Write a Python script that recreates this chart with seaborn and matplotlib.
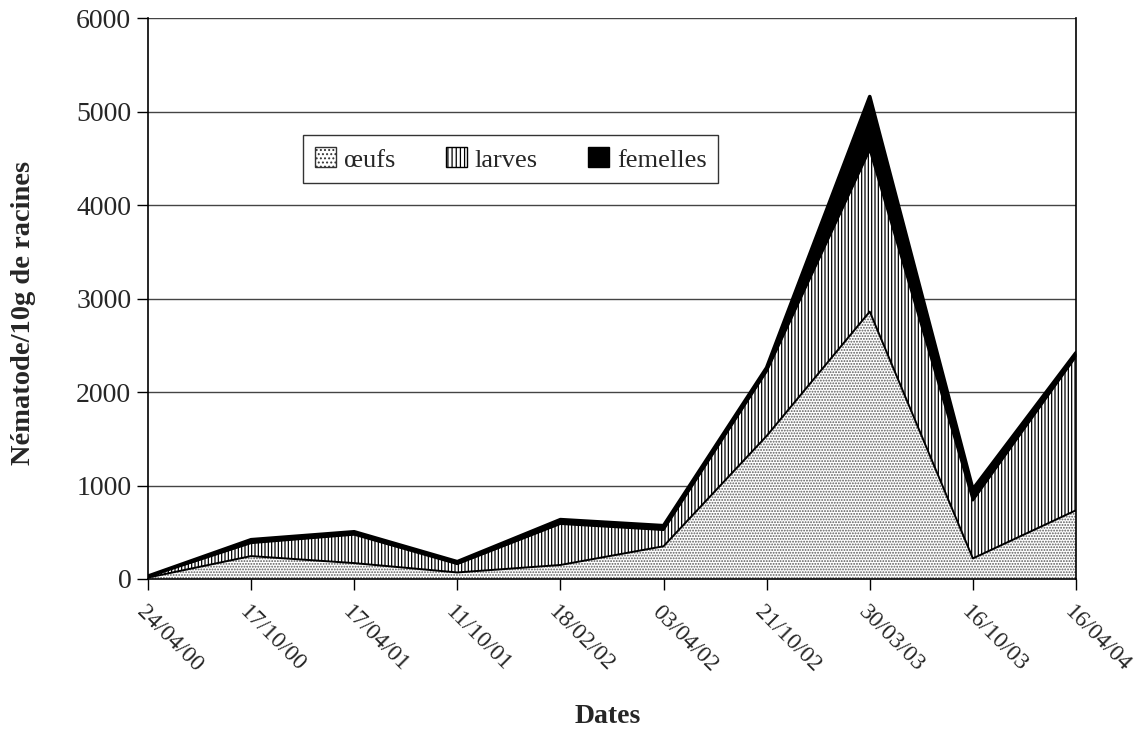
import matplotlib
matplotlib.use("Agg")
import matplotlib.pyplot as plt
import matplotlib.transforms as mtransforms
from matplotlib.patches import Patch
import numpy as np
import pandas as pd
import seaborn as sns

# Sampling dates and nematode counts per 10 g of roots
dates = ["24/04/00", "17/10/00", "17/04/01", "11/10/01", "18/02/02",
         "03/04/02", "21/10/02", "30/03/03", "16/10/03", "16/04/04"]
oeufs = [15, 245, 170, 70, 150, 350, 1530, 2860, 220, 735]
larves = [10, 140, 305, 90, 440, 175, 690, 1730, 620, 1645]
femelles = [5, 35, 30, 25, 45, 45, 40, 570, 120, 40]
yticks = [0, 1000, 2000, 3000, 4000, 5000, 6000]

sns.set_theme(style="white")
plt.rcParams["font.family"] = ["Liberation Serif", "DejaVu Serif"]
plt.rcParams["hatch.linewidth"] = 0.9

x = np.arange(len(dates))
c1 = np.array(oeufs, dtype=float)
c2 = c1 + np.array(larves)
c3 = c2 + np.array(femelles)

df = pd.DataFrame({"x": np.tile(x, 3),
                   "y": np.concatenate([c1, c2, c3]),
                   "layer": np.repeat(["œufs", "larves", "femelles"], len(x))})

fig = plt.figure(figsize=(11.38, 7.33), dpi=100)
ax = fig.add_axes([0.130, 0.2101, 0.8155, 0.7653])

# stacked layers
ax.fill_between(x, 0, c1, facecolor="white", edgecolor="#5a5a5a",
                hatch="......", linewidth=0, zorder=2)
ax.fill_between(x, c1, c2, facecolor="white", edgecolor="black",
                hatch="|||||", linewidth=0, zorder=2)
ax.fill_between(x, c2, c3, facecolor="black", edgecolor="black",
                linewidth=0, zorder=2)

# layer boundaries
sns.lineplot(data=df[df.layer == "œufs"], x="x", y="y", color="black",
             linewidth=1.4, ax=ax, zorder=3, legend=False)
sns.lineplot(data=df[df.layer == "larves"], x="x", y="y", color="black",
             linewidth=1.6, ax=ax, zorder=3, legend=False)
sns.lineplot(data=df[df.layer == "femelles"], x="x", y="y", color="black",
             linewidth=2.6, ax=ax, zorder=3, legend=False)

ax.set_xlim(0, len(dates) - 1)
ax.set_ylim(0, 6000)
ax.set_yticks(yticks)
ax.set_yticklabels([str(v) for v in yticks], fontsize=20)
ax.set_xticks(x)
ax.set_xticklabels(dates, fontsize=17, rotation=-45, ha="left", va="top",
                   rotation_mode="anchor")
ax.yaxis.grid(True, color="#444444", linewidth=1.0, zorder=0)
ax.set_axisbelow(True)
ax.tick_params(axis="both", which="major", direction="out", length=8,
               width=1.0, color="black", left=True, bottom=True, pad=4)
shift = mtransforms.ScaledTranslation(-0.01, -0.06, fig.dpi_scale_trans)
for lbl in ax.get_xticklabels():
    lbl.set_transform(lbl.get_transform() + shift)
for s in ax.spines.values():
    s.set_color("black")
    s.set_linewidth(1.2)
ax.spines["top"].set_visible(False)

ax.set_xlabel("Dates", fontsize=20, fontweight="bold")
ax.xaxis.set_label_coords(0.4957, -0.222)
ax.set_ylabel("Nématode/10g de racines", fontsize=20.5, fontweight="bold")
ax.yaxis.set_label_coords(-0.1207, 0.474)

handles = [Patch(facecolor="white", edgecolor="#333333", hatch="....", linewidth=1.0),
           Patch(facecolor="white", edgecolor="black", hatch="||||", linewidth=1.0),
           Patch(facecolor="black", edgecolor="black", linewidth=1.0)]
leg = ax.legend(handles, ["œufs", "larves", "femelles"], ncol=3,
                loc="center", bbox_to_anchor=(0.391, 0.748), fontsize=19,
                frameon=True, fancybox=False, handlelength=0.8,
                handleheight=0.8, handletextpad=0.3, columnspacing=1.9,
                borderpad=0.45, edgecolor="black")
leg.get_frame().set_linewidth(1.0)

fig.savefig("out.png", dpi=100, facecolor="white")
